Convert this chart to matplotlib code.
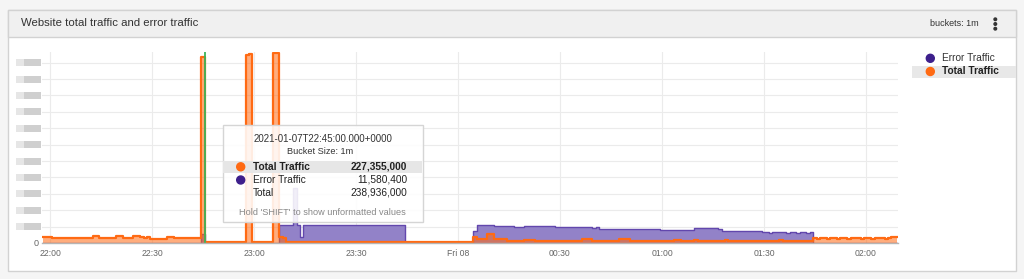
import numpy as np
import pandas as pd
import matplotlib
matplotlib.use('Agg')
import matplotlib.pyplot as plt
import matplotlib.dates as mdates
from matplotlib.patches import Rectangle, Circle

plt.rcParams['font.family'] = ['Liberation Sans', 'DejaVu Sans']

# ---------------- data (millions, 1-minute buckets) ----------------
start_time = '2021-01-07 21:58'

total_traffic = [
    6.9, 7.2, 6.8, 5.9, 5.6, 5.8, 5.5, 5.7, 6.2, 6.4,
    6.1, 6.3, 6.5, 6.2, 6.4, 8.6, 8.9, 6.6, 6.3, 6.5,
    6.7, 6.4, 8.7, 8.9, 6.6, 6.4, 6.5, 8.2, 8.4, 6.9,
    6.7, 6.8, 4.6, 4.4, 4.7, 4.5, 4.3, 7.6, 7.8, 5.8,
    5.6, 5.9, 5.7, 6.4, 6.6, 6.3, 6.5, 227.355, 1.2, 1.2,
    1.2, 1.2, 1.2, 1.2, 1.2, 1.2, 1.2, 1.2, 1.2, 1.2,
    229.0, 230.5, 1.2, 1.2, 1.2, 1.2, 1.2, 1.2, 231.5, 232.0,
    6.9, 6.5, 1.2, 1.2, 1.2, 1.2, 1.2, 1.2, 1.2, 1.2,
    1.2, 1.2, 1.2, 1.2, 1.2, 1.2, 1.2, 1.2, 1.2, 1.2,
    1.2, 1.2, 1.2, 1.2, 1.2, 1.2, 1.2, 1.2, 1.2, 1.2,
    1.2, 1.2, 1.2, 1.2, 1.2, 1.2, 1.2, 1.2, 1.2, 1.2,
    1.2, 1.2, 1.2, 1.2, 1.2, 1.2, 1.2, 1.2, 1.2, 1.2,
    1.2, 1.2, 1.2, 1.2, 1.2, 1.2, 1.2, 7.7, 4.9, 5.1,
    4.8, 10.6, 10.4, 5.0, 4.8, 4.9, 4.6, 2.6, 2.4, 2.8,
    2.5, 2.7, 4.1, 4.0, 3.9, 2.6, 2.8, 2.5, 2.7, 3.0,
    2.6, 2.4, 2.8, 2.9, 2.6, 2.5, 2.7, 2.9, 2.6, 5.0,
    5.4, 4.9, 2.8, 2.6, 2.9, 2.7, 2.5, 2.8, 3.0, 2.7,
    4.9, 5.1, 4.8, 2.6, 2.8, 2.7, 2.5, 2.9, 2.6, 2.8,
    3.0, 2.7, 2.5, 2.8, 2.6, 2.9, 4.2, 4.0, 2.7, 2.9,
    2.6, 2.8, 3.1, 2.7, 2.5, 2.8, 3.0, 2.6, 2.9, 2.7,
    2.8, 3.2, 2.9, 2.6, 2.8, 3.0, 2.7, 2.9, 2.5, 2.8,
    2.6, 3.0, 2.8, 2.7, 2.9, 2.6, 2.8, 3.1, 2.7, 2.9,
    2.6, 2.8, 2.7, 3.0, 2.8, 2.6, 2.9, 5.6, 5.4, 5.5,
    5.7, 5.3, 5.5, 5.6, 5.4, 5.8, 5.5, 5.3, 5.6, 5.5,
    5.7, 5.4, 5.6, 5.5, 5.3, 5.6, 5.8, 5.5, 5.4, 5.6,
    6.9, 7.1,
]

error_traffic = [
    0, 0, 0, 0, 0, 0, 0, 0, 0, 0,
    0, 0, 0, 0, 0, 0, 0, 0, 0, 0,
    0, 0, 0, 0, 0, 0, 0, 0, 0, 0,
    0, 0, 0, 0, 0, 0, 0, 0, 0, 0,
    0, 0, 0, 0, 0, 0, 0, 11.5804, 0, 0,
    0, 0, 0, 0, 0, 0, 0, 0, 0, 0,
    0, 0, 0, 0, 0, 0, 0, 0, 0, 0,
    21.6, 21.9, 22.1, 21.8, 67.0, 21.7, 7.7, 21.5, 21.9, 22.0,
    21.8, 21.6, 21.9, 22.1, 21.8, 21.7, 22.0, 21.9, 21.6, 21.8,
    22.0, 21.7, 21.9, 22.1, 21.8, 21.6, 21.9, 21.7, 22.0, 21.8,
    21.9, 21.6, 21.8, 22.0, 21.7, 21.9, 21.5, 0, 0, 0,
    0, 0, 0, 0, 0, 0, 0, 0, 0, 0,
    0, 0, 0, 0, 0, 0, 0, 15.0, 21.5, 21.9,
    22.0, 21.8, 21.6, 20.8, 20.6, 20.9, 20.7, 20.5, 20.8, 19.6,
    19.3, 19.5, 20.9, 21.1, 20.8, 21.0, 20.7, 20.9, 21.0, 20.6,
    20.8, 19.5, 19.3, 19.6, 19.4, 19.2, 19.5, 19.3, 19.6, 19.1,
    19.4, 19.2, 18.9, 19.1, 17.2, 17.0, 17.3, 16.9, 17.1, 16.8,
    17.0, 17.2, 16.9, 17.1, 16.8, 17.0, 16.7, 17.1, 16.9, 17.2,
    16.8, 16.6, 15.9, 15.7, 16.0, 15.8, 15.6, 15.9, 15.7, 15.8,
    16.0, 15.6, 17.9, 18.1, 17.8, 18.0, 17.7, 17.9, 18.2, 17.6,
    14.8, 14.6, 14.9, 14.5, 14.7, 14.6, 14.8, 14.4, 14.6, 14.7,
    14.5, 14.3, 13.1, 13.0, 12.8, 13.2, 12.9, 13.0, 13.1, 12.7,
    13.0, 12.9, 12.8, 13.1, 12.9, 12.7, 13.0, 0, 0, 0,
    0, 0, 0, 0, 0, 0, 0, 0, 0, 0,
    0, 0, 0, 0, 0, 0, 0, 0, 0, 0,
    0, 0,
]

tick_times = ['2021-01-07 22:00', '2021-01-07 22:30', '2021-01-07 23:00',
              '2021-01-07 23:30', '2021-01-08 00:00', '2021-01-08 00:30',
              '2021-01-08 01:00', '2021-01-08 01:30', '2021-01-08 02:00']
tick_labels = ['22:00', '22:30', '23:00', '23:30', 'Fri 08', '00:30',
               '01:00', '01:30', '02:00']
y_ticks = [0, 20, 40, 60, 80, 100, 120, 140, 160, 180, 200, 220]
hover_time = '2021-01-07 22:45:36'

series_names = ['Error Traffic', 'Total Traffic']
title = 'Website total traffic and error traffic'
tooltip_time = '2021-01-07T22:45:00.000+0000'
tooltip_bucket = 'Bucket Size: 1m'
tooltip_rows = [('Total Traffic', '227,355,000'),
                ('Error Traffic', '11,580,400'),
                ('Total', '238,936,000')]
tooltip_hint = "Hold 'SHIFT' to show unformatted values"

assert len(total_traffic) == len(error_traffic)

# ---------------- colours ----------------
ORANGE = '#ff6a13'
PURPLE_DOT = '#3d1f8c'
PURPLE_FILL = '#9282c8'
PURPLE_LINE = '#6247ad'

W, H = 1024, 279
fig = plt.figure(figsize=(W / 100, H / 100), dpi=100)
fig.patch.set_facecolor('#f5f5f5')

# background panel (pixel coordinates)
bg = fig.add_axes([0, 0, 1, 1], zorder=0)
bg.set_xlim(0, W)
bg.set_ylim(H, 0)
bg.axis('off')
bg.add_patch(Rectangle((7.5, 9.5), 1008, 261.5, facecolor='white',
                       edgecolor='#d2d2d2', lw=1))
bg.add_patch(Rectangle((7.5, 9.5), 1008, 27.2, facecolor='#f0f0f0',
                       edgecolor='#d2d2d2', lw=1))
bg.text(21, 23.5, title, fontsize=8.2, color='#333333', va='center', ha='left')
bg.text(978.5, 24, 'buckets: 1m', fontsize=6.5, color='#333333',
        va='center', ha='right')
for yy in (19.3, 24.0, 28.7):
    bg.add_patch(Circle((995.3, yy), 1.3, color='#333333'))

# main plot axes
ax_left, ax_right, ax_top, ax_bottom = 41.5, 898.3, 52.0, 243.0
ax = fig.add_axes([ax_left / W, (H - ax_bottom) / H,
                   (ax_right - ax_left) / W, (ax_bottom - ax_top) / H], zorder=1)
ax.set_facecolor('none')

times = pd.date_range(start_time, periods=len(total_traffic), freq='min')
tn = mdates.date2num(times.to_pydatetime())
err = np.array(error_traffic, dtype=float)
tot = np.array(total_traffic, dtype=float)

ax.fill_between(tn, err, step='mid', color=PURPLE_FILL, lw=0, zorder=2)
ax.step(tn, err, where='mid', color=PURPLE_LINE, lw=1.0, zorder=2.2)
ax.fill_between(tn, tot, step='mid', color=ORANGE, alpha=0.55, lw=0, zorder=3)
ax.step(tn, tot, where='mid', color=ORANGE, lw=1.6, zorder=3.2)
ax.axvline(mdates.date2num(pd.Timestamp(hover_time).to_pydatetime()),
           color='#3cb45a', lw=1.3, zorder=3.5)

half = (tn[1] - tn[0]) / 2
ax.set_xlim(tn[0] - half, tn[-1] + half)
ax.set_ylim(0, 233)

xt = mdates.date2num(pd.to_datetime(tick_times).to_pydatetime())
ax.set_xticks(xt)
ax.set_xticklabels(tick_labels)
ax.set_yticks(y_ticks)
ax.set_yticklabels([])
ax.tick_params(axis='both', length=0, labelsize=6.2, labelcolor='#666666', pad=4.5)
ax.grid(True, color='#ebebeb', lw=0.8, zorder=0)
ax.set_axisbelow(True)
for s in ('top', 'right', 'left'):
    ax.spines[s].set_visible(False)
ax.spines['bottom'].set_color('#b5b5b5')
ax.spines['bottom'].set_linewidth(1.0)
ax.spines['bottom'].set_zorder(4)

# redacted y tick labels (blurred blocks) and the zero label
for v in y_ticks[1:]:
    yp = ax_bottom - v / 233 * (ax_bottom - ax_top)
    bg.add_patch(Rectangle((16, yp - 3.5), 8, 7, facecolor='#e6e6e6', lw=0))
    bg.add_patch(Rectangle((24, yp - 3.5), 17, 7, facecolor='#cfcfcf', lw=0))
bg.text(39, 243, '0', fontsize=6.5, color='#666666', ha='right', va='center')

# overlay: legend + tooltip
ov = fig.add_axes([0, 0, 1, 1], zorder=5)
ov.set_xlim(0, W)
ov.set_ylim(H, 0)
ov.axis('off')
ov.patch.set_alpha(0)

ov.add_patch(Rectangle((912, 65.7), 103.5, 12, facecolor='#e8e8e8', lw=0))
ov.add_patch(Circle((930.3, 58.3), 4, color=PURPLE_DOT))
ov.text(942, 58.3, series_names[0], fontsize=7.3, color='#333333', va='center')
ov.add_patch(Circle((930.3, 71.5), 4, color=ORANGE))
ov.text(942, 71.5, series_names[1], fontsize=7.3, color='#222222', va='center',
        fontweight='bold')

# tooltip
bx0, by0, bw, bh = 222.7, 125.0, 200.0, 96.7
ov.add_patch(Rectangle((bx0, by0), bw, bh, facecolor=(1, 1, 1, 0.88),
                       edgecolor='#d5d5d5', lw=1))
cx = bx0 + bw / 2
ov.text(cx, 139, tooltip_time, fontsize=7.0, color='#333333', ha='center', va='center')
ov.text(cx - 3, 151.7, tooltip_bucket, fontsize=6.6, color='#333333', ha='center', va='center')
ov.add_patch(Rectangle((bx0 + 0.5, 161), bw - 1, 11.7, facecolor='#e6e6e6', lw=0))
row_y = [166.8, 180.0, 192.7]
dot_colors = [ORANGE, PURPLE_DOT, None]
for i, ((name, val), yy, dc) in enumerate(zip(tooltip_rows, row_y, dot_colors)):
    fw = 'bold' if i == 0 else 'normal'
    if dc is not None:
        ov.add_patch(Circle((240.7, yy), 4, color=dc))
    ov.text(252.7, yy, name, fontsize=7.3, color='#222222', ha='left', va='center',
            fontweight=fw)
    ov.text(407.3, yy, val, fontsize=7.3, color='#222222', ha='right', va='center',
            fontweight=fw)
ov.text(cx, 212.7, tooltip_hint, fontsize=6.6, color='#888888', ha='center', va='center')

fig.savefig('out.png', dpi=100, facecolor=fig.get_facecolor())
